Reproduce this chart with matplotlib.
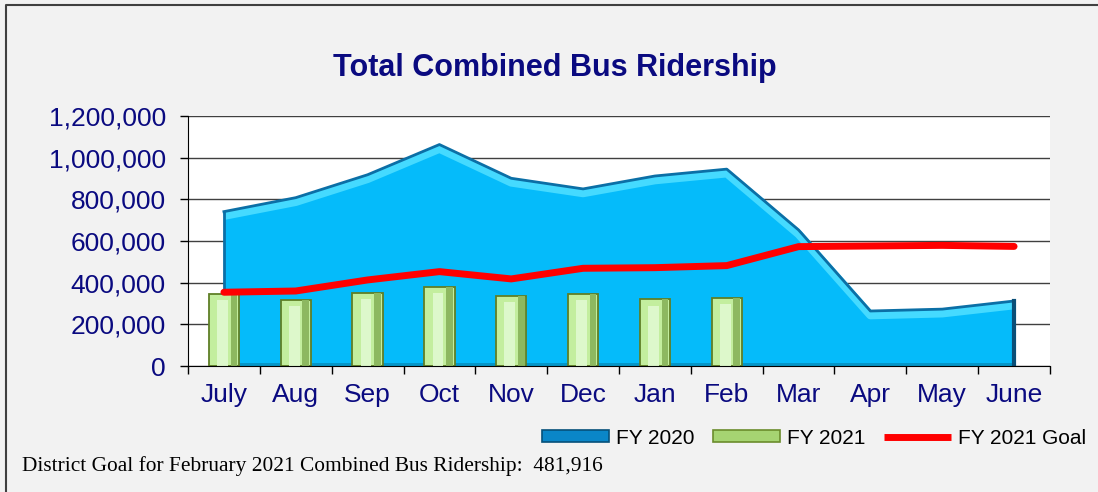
import numpy as np
import matplotlib.pyplot as plt
from matplotlib.patches import Rectangle
from matplotlib.lines import Line2D

months = ['July', 'Aug', 'Sep', 'Oct', 'Nov', 'Dec', 'Jan', 'Feb', 'Mar', 'Apr', 'May', 'June']
fy2020 = [741000, 808000, 918000, 1063000, 901000, 850000, 912000, 945000, 653000, 264000, 273000, 312000]
fy2021 = [346000, 317000, 352000, 381000, 338000, 346000, 320000, 326000]
goal = [354000, 360000, 413000, 453000, 418000, 469000, 472000, 481916, 573000, 576000, 579000, 574000]
yticks = [0, 200000, 400000, 600000, 800000, 1000000, 1200000]

navy = '#0A0A80'
plt.rcParams['font.family'] = ['Liberation Sans', 'DejaVu Sans']

fig = plt.figure(figsize=(10.98, 4.92), dpi=100, facecolor='#F2F2F2')
ax = fig.add_axes([188 / 1098, 126 / 492, 862 / 1098, 250 / 492])
ax.set_facecolor('white')

x = np.arange(len(months))
x21 = np.arange(len(fy2021))

# FY 2020 area with a simple bevel look
ax.fill_between(x, 0, fy2020, color='#05BBFA', zorder=2, linewidth=0)
ax.fill_between(x, 0, 15000, color='#0596C8', zorder=2, linewidth=0)
ax.plot(x, np.array(fy2020) - 20000, color='#45DAFF', lw=6, zorder=2.2,
        solid_joinstyle='round', solid_capstyle='butt')
ax.plot(x, fy2020, color='#0B6FA6', lw=2, zorder=2.3)
ax.plot([x[0], x[0]], [0, fy2020[0]], color='#0B6FA6', lw=2, zorder=2.3)
ax.plot([x[-1], x[-1]], [0, fy2020[-1]], color='#0A4F78', lw=3, zorder=2.3)

# FY 2021 bars
bw = 0.42
ax.bar(x21, fy2021, width=bw, color='#C3EE9E', edgecolor='#5F7F26', linewidth=1.3, zorder=3)
ax.bar(x21 + bw * 0.33, fy2021, width=bw * 0.22, color='#8DB860', linewidth=0, zorder=3.1)
ax.bar(x21 - bw * 0.05, np.array(fy2021) - 30000, width=bw * 0.35, color='#DDF8CB',
       linewidth=0, zorder=3.1)

# FY 2021 goal line
ax.plot(x, goal, color='#FF0000', lw=5, solid_capstyle='round', zorder=4)

ax.set_xlim(-0.5, len(months) - 0.5)
ax.set_ylim(0, 1200000)
ax.set_yticks(yticks)
ax.set_yticklabels([f'{v:,}' for v in yticks])
ax.yaxis.grid(True, color='#404040', lw=1)
ax.set_axisbelow(True)
ax.set_xticks(x)
ax.set_xticklabels(months)
ax.set_xticks(np.arange(-0.5, len(months)), minor=True)
ax.tick_params(axis='x', which='major', length=0, pad=12, labelsize=19, labelcolor=navy)
ax.tick_params(axis='x', which='minor', length=6, width=1, color='black', direction='out')
ax.tick_params(axis='y', length=6, width=1, pad=10, labelsize=19, labelcolor=navy)
for s in ['top', 'right']:
    ax.spines[s].set_visible(False)
for s in ['left', 'bottom']:
    ax.spines[s].set_color('black')
    ax.spines[s].set_zorder(5)

fig.text(555 / 1098, 1 - 68 / 492, 'Total Combined Bus Ridership', ha='center', va='center',
         fontsize=22, fontweight='bold', color=navy)

handles = [
    Rectangle((0, 0), 1, 1, facecolor='#0A86C8', edgecolor='#06507A', lw=1.2),
    Rectangle((0, 0), 1, 1, facecolor='#A6D472', edgecolor='#6B8C2C', lw=1.2),
    Line2D([], [], color='#FF0000', lw=5, solid_capstyle='butt'),
]
fig.legend(handles, ['FY 2020', 'FY 2021', 'FY 2021 Goal'], loc='center right',
           bbox_to_anchor=(1105 / 1098, 1 - 438 / 492), ncol=3, frameon=False,
           fontsize=15, handlelength=3.2, handleheight=0.45, handletextpad=0.35,
           columnspacing=0.9)

fig.text(22 / 1098, 1 - 466 / 492, 'District Goal for February 2021 Combined Bus Ridership:  481,916',
         ha='left', va='center', fontsize=15.4, family='Liberation Serif', color='black')

# outer chart border (left and top)
fig.add_artist(Line2D([6 / 1098, 6 / 1098, 1], [0, 1 - 5 / 492, 1 - 5 / 492],
                      transform=fig.transFigure, color='#404040', lw=1.5))

fig.savefig('out.png', dpi=100, facecolor=fig.get_facecolor())
